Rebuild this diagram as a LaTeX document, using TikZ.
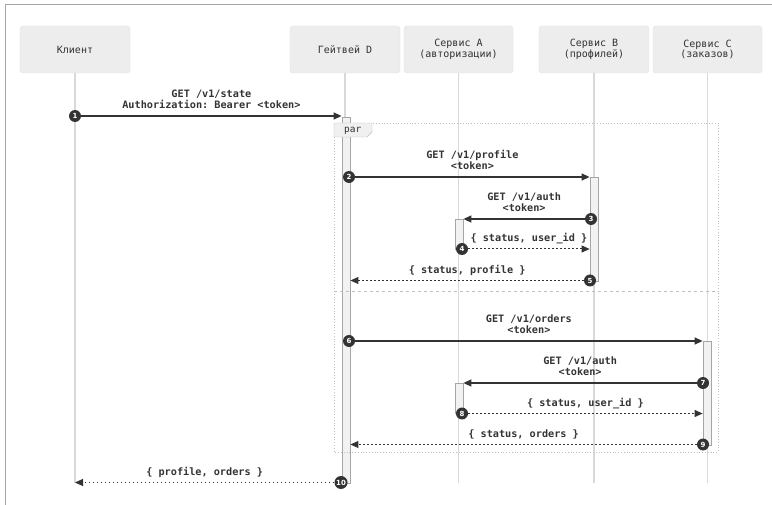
\documentclass[tikz,border=0pt]{standalone}
\usepackage{fontspec}
\setmonofont{DejaVu Sans Mono}
\newfontfamily\numfont{DejaVu Sans}
\usetikzlibrary{arrows.meta}
\definecolor{ink}{HTML}{333333}
\tikzset{
	party/.style={draw=black!12, fill=black!7, rounded corners=3pt, minimum height=47pt, inner sep=0pt, align=center, text=ink, font=\ttfamily\fontsize{10}{10.5}\selectfont},
	life/.style={draw=black!15, line width=1.5pt},
	act/.style={draw=black!35, fill=black!5, minimum width=8pt, inner sep=0pt, line width=0.8pt},
	msg/.style={draw=ink, line width=1.3pt, -{Triangle[length=8pt,width=7pt]}},
	reply/.style={msg, line width=1pt, dash pattern=on 1.8pt off 2.2pt},
	lbl/.style={inner sep=0pt, align=center, text=ink, text depth=2.5pt, above=4pt, font=\ttfamily\bfseries\fontsize{10.2}{11.5}\selectfont},
	num/.style={circle, fill=ink, text=white, inner sep=0pt, minimum size=12pt, font=\numfont\bfseries\fontsize{7}{7}\selectfont},
}
\begin{document}
\begin{tikzpicture}[x=1pt, y=-1pt]
	%%%%% START %%%%%
	\useasboundingbox (0,0) rectangle (772,505);
	\draw[black!35, line width=1pt] (5,505) -- (5,5) -- (772,5);
	
	\node[party, minimum width=110pt] (kl) at (75,49.5) {Клиент};
	\node[party, minimum width=110pt] (gw) at (345,49.5) {Гейтвей D};
	\node[party, minimum width=109pt] (sa) at (458.5,49.5) {Сервис A\\(авторизации)};
	\node[party, minimum width=110pt] (sb) at (594,49.5) {Сервис B\\(профилей)};
	\node[party, minimum width=109pt] (sc) at (707.5,49.5) {Сервис C\\(заказов)};
	
	\foreach \p in {kl,gw,sa,sb,sc}
		\draw[life] (\p.south) -- (\p.south |- 0,483);
	
	\node[act, minimum height=366pt] (actD) at (346,300) {};
	\node[act, minimum height=104pt] (actB) at (594,229) {};
	\node[act, minimum height=30pt] (actA1) at (459,234) {};
	\node[act, minimum height=104pt] (actC) at (707,393) {};
	\node[act, minimum height=30pt] (actA2) at (459,398) {};
	
	% par block
	\draw[black!25, line width=0.8pt, dotted] (334,123) rectangle (718,452);
	\draw[black!25, line width=0.8pt, dash pattern=on 3pt off 3pt] (334,291) -- (718,291);
	\draw[black!25, fill=black!6] (334,123) -- (372,123) -- (372,132) -- (367,137) -- (334,137) -- cycle;
	\node[anchor=west, inner sep=0pt, text=ink, font=\ttfamily\fontsize{9.5}{9.5}\selectfont] (par) at (344,130.5) {par};
	
	\node[num] (m1) at (75,116) {1};
	\node[num] (m2) at (349,177) {2};
	\node[num] (m3) at (591,219) {3};
	\node[num] (m4) at (462,249) {4};
	\node[num] (m5) at (590,280.5) {5};
	\node[num] (m6) at (349,341) {6};
	\node[num] (m7) at (703,383) {7};
	\node[num] (m8) at (462,413.5) {8};
	\node[num] (m9) at (703,444.5) {9};
	\node[num, minimum size=13pt] (m10) at (341,482.5) {10};
	
	\draw[msg] (m1) -- node[lbl] (t1) {GET /v1/state\\Authorization: Bearer <token>} (actD.west |- m1);
	\draw[msg] (m2) -- node[lbl] (t2) {GET /v1/profile\\<token>} (actB.west |- m2);
	\draw[msg] (m3) -- node[lbl] (t3) {GET /v1/auth\\<token>} (actA1.east |- m3);
	\draw[reply] (m4) -- node[lbl] (t4) {\{ status, user\_id \}} (actB.west |- m4);
	\draw[reply] (m5) -- node[lbl] (t5) {\{ status, profile \}} (actD.east |- m5);
	
	\draw[msg] (m6) -- node[lbl] (t6) {GET /v1/orders\\<token>} (actC.west |- m6);
	\draw[msg] (m7) -- node[lbl] (t7) {GET /v1/auth\\<token>} (actA2.east |- m7);
	\draw[reply] (m8) -- node[lbl] (t8) {\{ status, user\_id \}} (actC.west |- m8);
	\draw[reply] (m9) -- node[lbl] (t9) {\{ status, orders \}} (actD.east |- m9);
	
	\draw[reply] (m10) -- node[lbl] (t10) {\{ profile, orders \}} (kl |- m10);
	
	%%%%% END %%%%%
\end{tikzpicture}
\end{document}
